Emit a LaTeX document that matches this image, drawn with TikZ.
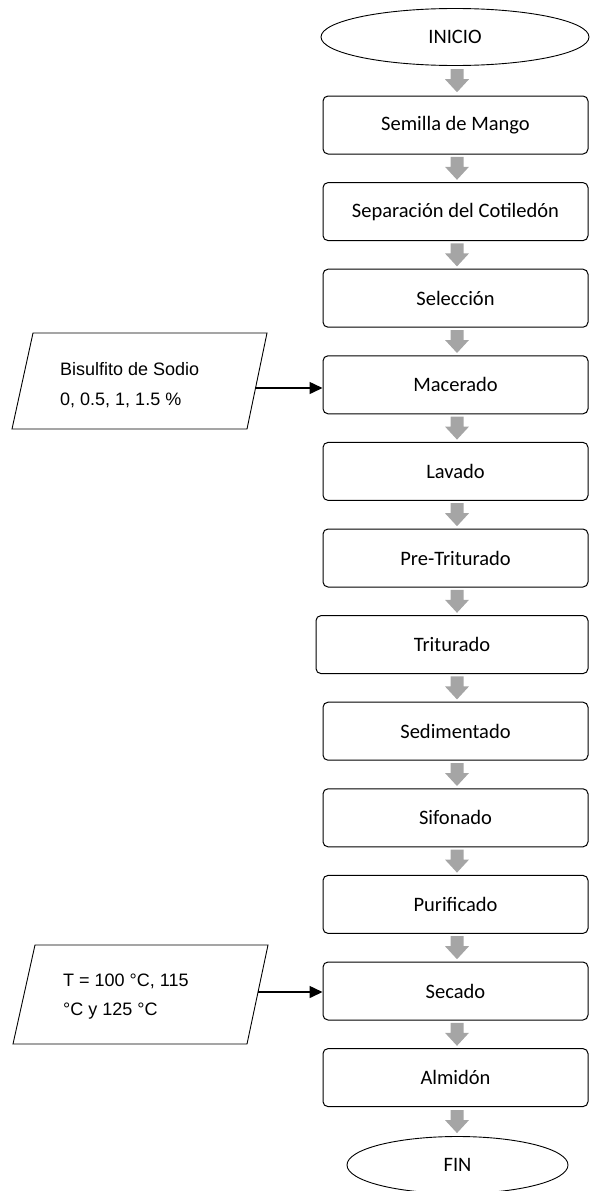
\documentclass[tikz,border=0pt]{standalone}
\usepackage{fontspec}
\setmainfont{Carlito}
\newfontfamily\arialf{Liberation Sans}
\usetikzlibrary{calc,arrows.meta,shapes.geometric}
\definecolor{flowgray}{HTML}{A5A5A5}
\tikzset{
  stepbox/.style={draw, rounded corners=5pt, line width=1pt, minimum width=265pt, minimum height=58pt, inner sep=0pt, font=\fontsize{20.5}{24}\selectfont},
  term/.style={draw, ellipse, line width=0.9pt, minimum height=57pt, inner sep=0pt, font=\fontsize{20.5}{24}\selectfont},
  datatext/.style={anchor=west, align=left, inner sep=0pt},
  inarrow/.style={line width=1.5pt, -{Triangle[length=13pt,width=12pt]}},
  databox/.style={draw, line width=0.9pt}
}
\newcommand\flowarrow[2]{%
  \path ($(#1.south)!0.5!(#2.north)$) coordinate (fm);
  \fill[flowgray] (ax |- fm) ++(-6.5,-11.5) -- ++(13,0) -- ++(0,10) -- ++(5.5,0) -- ++(-12,13) -- ++(-12,-13) -- ++(5.5,0) -- cycle;}
\begin{document}
\begin{tikzpicture}[x=1pt,y=-1pt]
\useasboundingbox (0,0) rectangle (589,1191);
\coordinate (ax) at (457,0);
\node[term, minimum width=268pt] (inicio) at (455,37) {INICIO};
\node[stepbox] (n1) at (455.5,125) {Semilla de Mango};
\node[stepbox] (n2) at (455.5,211.6) {Separación del Cotiledón};
\node[stepbox] (n3) at (455.5,298.2) {Selección};
\node[stepbox] (n4) at (455.5,384.8) {Macerado};
\node[stepbox] (n5) at (455.5,471.4) {Lavado};
\node[stepbox] (n6) at (455.5,558) {Pre-Triturado};
\node[stepbox, minimum width=272pt] (n7) at (452,644.6) {Triturado};
\node[stepbox] (n8) at (455.5,731.2) {Sedimentado};
\node[stepbox] (n9) at (455.5,817.8) {Sifonado};
\node[stepbox] (n10) at (455.5,904.4) {Purificado};
\node[stepbox] (n11) at (455.5,991) {Secado};
\node[stepbox] (n12) at (455.5,1077.6) {Almidón};
\node[term, minimum width=221pt] (fin) at (457.5,1165) {FIN};
\flowarrow{inicio}{n1}
\flowarrow{n1}{n2}
\flowarrow{n2}{n3}
\flowarrow{n3}{n4}
\flowarrow{n4}{n5}
\flowarrow{n5}{n6}
\flowarrow{n6}{n7}
\flowarrow{n7}{n8}
\flowarrow{n8}{n9}
\flowarrow{n9}{n10}
\flowarrow{n10}{n11}
\flowarrow{n11}{n12}
\flowarrow{n12}{fin}
% data inputs
\draw[databox] (12,429) -- (33,333) -- (267,333) -- (247,429) -- cycle;
\node[datatext, font=\arialf\fontsize{18}{30}\selectfont] (p1) at (60,385) {Bisulfito de Sodio\\0, 0.5, 1, 1.5 \%};
\coordinate (p1out) at (256,388);
\draw[inarrow] (p1out) -- (p1out -| n4.west);
\draw[databox] (13,1044) -- (35,945) -- (268,945) -- (247,1044) -- cycle;
\node[datatext, font=\arialf\fontsize{18}{29}\selectfont] (p2) at (63,996.5) {T = 100 °C, 115\\°C y 125 °C};
\coordinate (p2out) at (258,992);
\draw[inarrow] (p2out) -- (p2out -| n11.west);
\end{tikzpicture}
\end{document}
